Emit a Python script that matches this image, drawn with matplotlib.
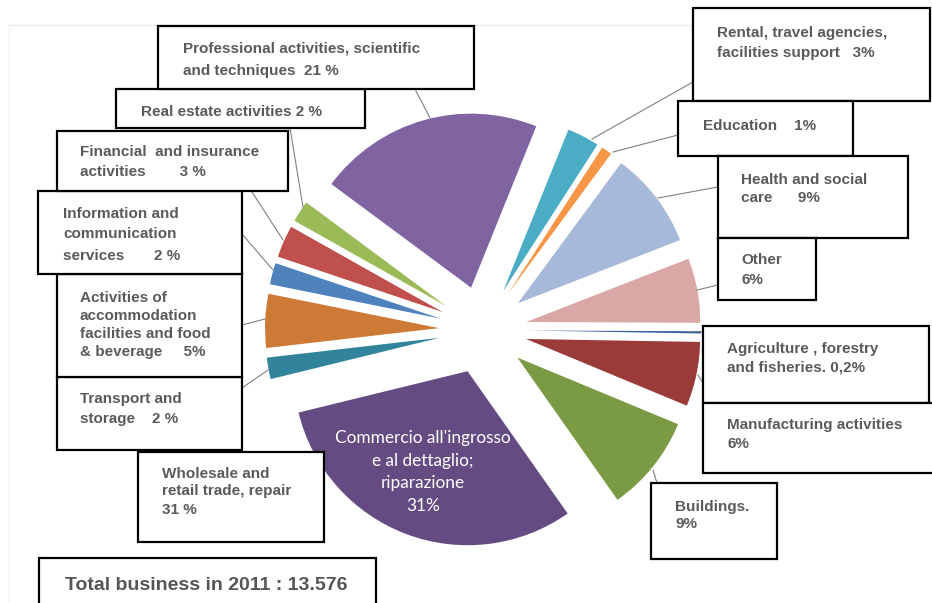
import matplotlib.pyplot as plt
from matplotlib.patches import Rectangle

W, H = 932, 603

# sectors, clockwise from the top
labels = ['Rental, travel agencies,\nfacilities support   3%',
          'Education    1%',
          'Health and social\ncare      9%',
          'Other\n6%',
          'Agriculture , forestry\nand fisheries. 0,2%',
          'Manufacturing activities\n6%',
          'Buildings.\n9%',
          'Wholesale and\nretail trade, repair\n31 %',
          'Transport and\nstorage    2 %',
          'Activities of\naccommodation\nfacilities and food\n& beverage     5%',
          'Information and\ncommunication\nservices       2 %',
          'Financial  and insurance\nactivities        3 %',
          'Real estate activities 2 %',
          'Professional activities, scientific\nand techniques  21 %']
values = [3, 1, 9, 6, 0.2, 6, 9, 31, 2, 5, 2, 3, 2, 21]
colors = ['#4BACC6', '#F79646', '#A7B9D8', '#D9A7A6', '#2F5F9E', '#9B3B39',
          '#7A9A43', '#644B82', '#31849B', '#CC7A35', '#4F81BD', '#C0504D',
          '#9BBB59', '#8064A2']
inner_label = "Commercio all'ingrosso\ne al dettaglio;\nriparazione\n31%"
total_text = 'Total business in 2011 : 13.576'

# label boxes in pixel coords (x0, y0, x1, y1), first-line centre, spacing, leader line
boxes = [(693, 8, 930, 101), (678, 101, 853, 156), (718, 156, 908, 238),
         (718, 238, 816, 300), (703, 326, 929, 403), (703, 403, 940, 473),
         (651, 483, 777, 559), (138, 452, 324, 542), (57, 377, 242, 450),
         (57, 274, 242, 377), (38, 191, 242, 274), (57, 131, 288, 191),
         (116, 89, 365, 128), (158, 26, 474, 89)]
text_pos = [(717, 31), (703, 124), (741, 178), (741, 259), (727, 347),
            (727, 424), (675, 505), (162, 472), (80, 398), (80, 297),
            (63, 212), (80, 151), (141, 111), (183, 47)]
spacing = [20, 20, 19, 19, 19, 19, 18, 18, 20, 17.7, 21, 19, 20, 23]
leaders = [((693, 82), (592, 139)), ((678, 135), (613, 152)),
           ((718, 187), (658, 198)), ((718, 285), (697, 290)),
           ((703, 331), (690, 331)), ((703, 383), (698, 375)),
           ((657, 483), (653, 470)), None,
           ((242, 388), (268, 370)), ((242, 325), (265, 319)),
           ((242, 234), (273, 270)), ((252, 192), (283, 240)),
           ((290, 128), (303, 207)), ((415, 89), (430, 118))]


def Y(y):
    return H - y


fig = plt.figure(figsize=(W / 100, H / 100), dpi=100)
ax = fig.add_axes([0, 0, 1, 1])

ax.pie(values, colors=colors, startangle=68, counterclock=False,
       center=(483, Y(330)), radius=174, explode=[44] * len(values),
       wedgeprops=dict(linewidth=0))

# text inside the wholesale slice
ax.text(423, Y(472), inner_label, ha='center', va='center', color='white',
        fontsize=12.4, family='Lato', linespacing=1.5)

# faint chart frame
ax.plot([9, 693], [Y(25), Y(25)], color='#e8e8e8', lw=1, zorder=0)
ax.plot([9, 9], [Y(25), 0], color='#f2f2f2', lw=1, zorder=0)

fs = 11
for lab, b, tp, sp, ld in zip(labels, boxes, text_pos, spacing, leaders):
    if ld is not None:
        ax.plot([ld[0][0], ld[1][0]], [Y(ld[0][1]), Y(ld[1][1])],
                color='#808080', lw=0.8, zorder=2)
    ax.add_patch(Rectangle((b[0], Y(b[3])), b[2] - b[0], b[3] - b[1],
                           facecolor='white', edgecolor='black', lw=1.6, zorder=3))
    for i, line in enumerate(lab.split('\n')):
        ax.text(tp[0], Y(tp[1] + i * sp), line, ha='left', va='center_baseline',
                fontsize=fs, fontweight='bold', family='Liberation Sans',
                color='#5a5a5a', zorder=4)

ax.add_patch(Rectangle((39, Y(620)), 337, 62, facecolor='white',
                       edgecolor='black', lw=1.6, zorder=3))
ax.text(65, Y(583), total_text, ha='left', va='center_baseline', fontsize=14,
        fontweight='bold', family='Liberation Sans', color='#555555', zorder=4)

ax.set_xlim(0, W)
ax.set_ylim(0, H)
ax.set_aspect('auto')
ax.axis('off')
fig.savefig('out.png', dpi=100)
